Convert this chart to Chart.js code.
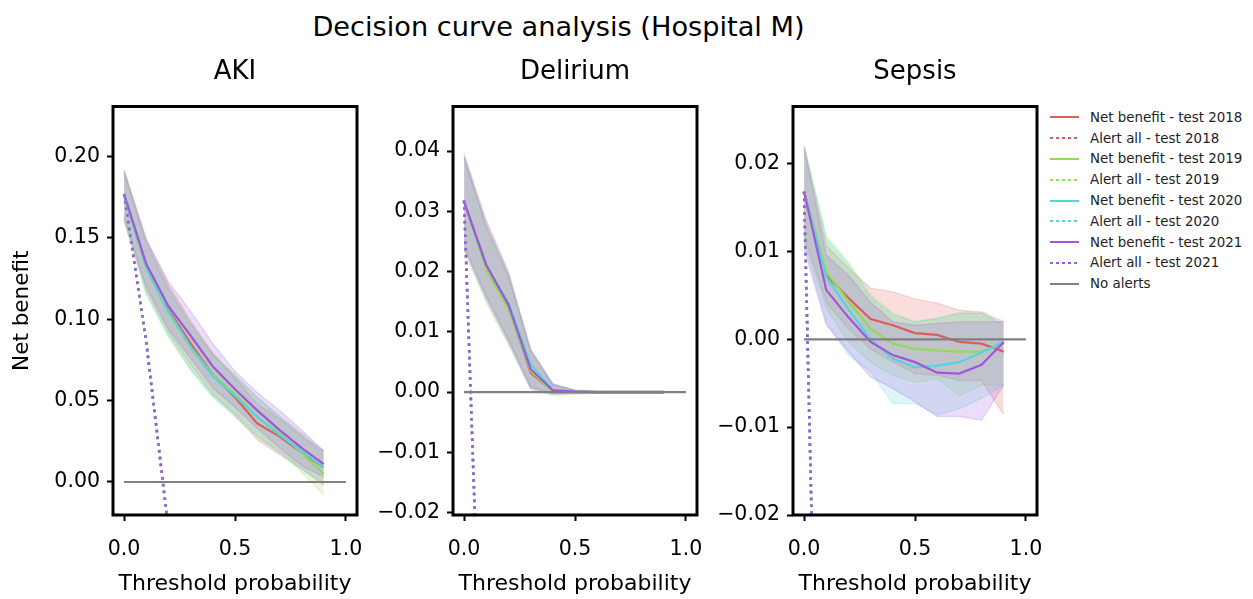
<!DOCTYPE html>
<html>
<head>
<meta charset="utf-8">
<title>Decision curve analysis (Hospital M)</title>
<script src="https://cdn.jsdelivr.net/npm/chart.js@4.4.1/dist/chart.umd.min.js"></script>
<style>
  html, body { margin: 0; padding: 0; background: #fff; }
  body { position: relative; width: 1253px; height: 599px; overflow: hidden; font-family: 'DejaVu Sans', sans-serif; color: #000; }
  canvas { position: absolute; top: 0; }
  #suptitle { position: absolute; left: 0; top: 13px; width: 1117px; text-align: center; font-size: 27.2px; line-height: 1; white-space: nowrap; }
  #legend { position: absolute; left: 1050px; top: 107px; font-size: 13.4px; color: #222; }
  .legend-item { display: flex; align-items: center; height: 20.8px; white-space: nowrap; }
  .legend-line { width: 29px; height: 2px; margin-right: 11px; }
</style>
</head>
<body>
<div id="suptitle">Decision curve analysis (Hospital M)</div>
<canvas id="akiChart" width="377" height="599" style="left:0px"></canvas>
<canvas id="deliriumChart" width="349" height="599" style="left:368px"></canvas>
<canvas id="sepsisChart" width="339" height="599" style="left:708px"></canvas>
<div id="legend"></div>
<script>
// decision curves – one chart per outcome, bands are the CI per test year

const thresholds = [0, 0.1, 0.2, 0.3, 0.4, 0.5, 0.6, 0.7, 0.8, 0.9];
const years = ['2018', '2019', '2020', '2021'];
const xTicks = [0, 0.5, 1.0];
const noAlertX = [0, 1];
const noAlertY = [0, 0];

// AKI (rows = 2018, 2019, 2020, 2021)
const akiNet = [
  [0.176, 0.133, 0.106, 0.085, 0.066, 0.052, 0.036, 0.028, 0.018, 0.009],
  [0.176, 0.131, 0.104, 0.083, 0.066, 0.054, 0.040, 0.030, 0.018, 0.005],
  [0.176, 0.132, 0.105, 0.083, 0.065, 0.053, 0.040, 0.029, 0.019, 0.009],
  [0.177, 0.134, 0.108, 0.090, 0.071, 0.057, 0.044, 0.032, 0.021, 0.011]
];
const akiUpper = [
  [0.192, 0.149, 0.121, 0.099, 0.079, 0.064, 0.048, 0.039, 0.028, 0.019],
  [0.190, 0.146, 0.118, 0.097, 0.079, 0.066, 0.052, 0.041, 0.029, 0.016],
  [0.190, 0.147, 0.119, 0.097, 0.078, 0.065, 0.052, 0.040, 0.030, 0.019],
  [0.191, 0.149, 0.123, 0.105, 0.085, 0.068, 0.055, 0.044, 0.032, 0.019]
];
const akiLower = [
  [0.161, 0.118, 0.092, 0.072, 0.054, 0.041, 0.026, 0.017, 0.008, -0.002],
  [0.160, 0.115, 0.089, 0.069, 0.053, 0.042, 0.028, 0.019, 0.006, -0.008],
  [0.161, 0.116, 0.090, 0.069, 0.052, 0.040, 0.028, 0.018, 0.008, -0.001],
  [0.163, 0.120, 0.094, 0.076, 0.058, 0.046, 0.033, 0.021, 0.010, 0.003]
];
const akiAlertAll = [
  [0.177, 0.086, -0.029],
  [0.177, 0.086, -0.029],
  [0.177, 0.086, -0.029],
  [0.177, 0.086, -0.029]
];
const akiYTicks = [0, 0.05, 0.10, 0.15, 0.20];

// Delirium
const deliriumNet = [
  [0.0316, 0.0208, 0.0142, 0.0032, 0.0002, 0.0000, 0.0000, 0.0000, 0.0000, 0.0000],
  [0.0316, 0.0203, 0.0138, 0.0035, 0.0001, 0.0000, 0.0000, 0.0000, 0.0000, 0.0000],
  [0.0316, 0.0210, 0.0148, 0.0046, 0.0003, 0.0000, 0.0000, 0.0000, 0.0000, 0.0000],
  [0.0316, 0.0211, 0.0145, 0.0038, 0.0003, 0.0001, 0.0000, 0.0000, 0.0000, 0.0000]
];
const deliriumUpper = [
  [0.0395, 0.0285, 0.0200, 0.0070, 0.0013, 0.0003, 0.0002, 0.0002, 0.0002, 0.0002],
  [0.0388, 0.0272, 0.0190, 0.0065, 0.0011, 0.0003, 0.0002, 0.0002, 0.0002, 0.0002],
  [0.0392, 0.0280, 0.0197, 0.0072, 0.0014, 0.0003, 0.0002, 0.0002, 0.0002, 0.0002],
  [0.0390, 0.0276, 0.0194, 0.0069, 0.0013, 0.0003, 0.0002, 0.0002, 0.0002, 0.0002]
];
const deliriumLower = [
  [0.0245, 0.0160, 0.0088, 0.0008, -0.0002, -0.0002, -0.0002, -0.0002, -0.0002, -0.0002],
  [0.0235, 0.0148, 0.0078, 0.0005, -0.0006, -0.0003, -0.0002, -0.0002, -0.0002, -0.0002],
  [0.0240, 0.0158, 0.0086, 0.0010, -0.0003, -0.0002, -0.0002, -0.0002, -0.0002, -0.0002],
  [0.0238, 0.0154, 0.0083, 0.0006, -0.0003, -0.0002, -0.0002, -0.0002, -0.0002, -0.0002]
];
const deliriumAlertAll = [
  [0.0318, -0.0760, -0.2079],
  [0.0318, -0.0760, -0.2079],
  [0.0318, -0.0760, -0.2079],
  [0.0318, -0.0760, -0.2079]
];
const deliriumYTicks = [-0.02, -0.01, 0, 0.01, 0.02, 0.03, 0.04];

// Sepsis
const sepsisNet = [
  [0.0168, 0.0073, 0.0047, 0.0023, 0.0016, 0.0007, 0.0005, -0.0003, -0.0005, -0.0014],
  [0.0168, 0.0077, 0.0043, 0.0012, -0.0005, -0.0011, -0.0013, -0.0014, -0.0014, -0.0005],
  [0.0168, 0.0071, 0.0034, 0.0000, -0.0022, -0.0032, -0.0030, -0.0026, -0.0015, -0.0003],
  [0.0168, 0.0056, 0.0025, -0.0003, -0.0018, -0.0026, -0.0038, -0.0039, -0.0029, -0.0003]
];
const sepsisUpper = [
  [0.0220, 0.0107, 0.0081, 0.0058, 0.0054, 0.0046, 0.0041, 0.0033, 0.0031, 0.0020],
  [0.0221, 0.0118, 0.0088, 0.0050, 0.0030, 0.0020, 0.0024, 0.0030, 0.0030, 0.0016],
  [0.0219, 0.0115, 0.0085, 0.0048, 0.0028, 0.0020, 0.0024, 0.0030, 0.0030, 0.0016],
  [0.0217, 0.0096, 0.0073, 0.0042, 0.0020, 0.0016, 0.0018, 0.0020, 0.0020, 0.0020]
];
const sepsisLower = [
  [0.0118, 0.0042, 0.0012, -0.0011, -0.0026, -0.0039, -0.0041, -0.0047, -0.0047, -0.0086],
  [0.0112, 0.0035, -0.0003, -0.0026, -0.0041, -0.0049, -0.0045, -0.0064, -0.0052, -0.0052],
  [0.0110, 0.0020, -0.0018, -0.0037, -0.0073, -0.0073, -0.0086, -0.0079, -0.0067, -0.0052],
  [0.0103, 0.0016, -0.0014, -0.0043, -0.0056, -0.0071, -0.0088, -0.0088, -0.0092, -0.0052]
];
const sepsisAlertAll = [
  [0.0168, -0.0924, -0.2290],
  [0.0168, -0.0924, -0.2290],
  [0.0168, -0.0924, -0.2290],
  [0.0168, -0.0924, -0.2290]
];
const sepsisYTicks = [-0.02, -0.01, 0, 0.01, 0.02];

// styles
const yearColors = ['#db5f57', '#91db57', '#57d3db', '#a157db'];
const noAlertColor = '#808080';

Chart.defaults.font.family = "'DejaVu Sans', sans-serif";
Chart.defaults.color = '#000';

function rgba(hex, a) {
  const n = parseInt(hex.slice(1), 16);
  return 'rgba(' + (n >> 16) + ',' + ((n >> 8) & 255) + ',' + (n & 255) + ',' + a + ')';
}

function toPoints(values, xs) {
  xs = xs || thresholds;
  return values.map((v, i) => ({ x: xs[i], y: v }));
}

function fmtTick(v, digits) {
  return Number(v).toFixed(digits).replace('-', '\u2212');
}

// black box around the plot area, like matplotlib spines
const framePlugin = {
  id: 'frame',
  afterDatasetsDraw(chart) {
    const { ctx, chartArea: a } = chart;
    ctx.save();
    ctx.strokeStyle = '#000';
    ctx.lineWidth = 3;
    ctx.strokeRect(a.left, a.top, a.right - a.left, a.bottom - a.top);
    ctx.restore();
  }
};

function drawPanel(p) {
  const datasets = [];

  years.forEach((yr, i) => {
    const c = yearColors[i];
    datasets.push({
      data: toPoints(p.upper[i]), borderColor: rgba(c, 0.2), backgroundColor: rgba(c, 0.2),
      borderWidth: 1.5, fill: '+1', order: 20 + (3 - i)
    });
    datasets.push({
      data: toPoints(p.lower[i]), borderColor: rgba(c, 0.2), borderWidth: 1.5,
      fill: false, order: 20 + (3 - i)
    });
  });

  years.forEach((yr, i) => {
    datasets.push({
      data: toPoints(p.net[i]), borderColor: yearColors[i], borderWidth: 2.2,
      fill: false, order: 10 + (3 - i)
    });
    datasets.push({
      data: toPoints(p.alert[i]), borderColor: yearColors[i], borderWidth: 2.6,
      borderDash: [2.6, 4.2], fill: false, order: 3 - i
    });
  });

  datasets.push({
    data: toPoints(noAlertY, noAlertX), borderColor: noAlertColor, borderWidth: 2.2,
    fill: false, order: 5
  });

  const yTitle = p.yLabel
    ? { display: true, text: p.yLabel, font: { size: 21.5 }, padding: { top: 9.3, bottom: 0 } }
    : { display: false };

  new Chart(document.getElementById(p.canvas), {
    type: 'line',
    data: { datasets },
    options: {
      responsive: false,
      animation: false,
      events: [],
      elements: { point: { radius: 0 }, line: { tension: 0 } },
      layout: { padding: { left: 0, right: p.padRight, top: 0, bottom: 0 } },
      plugins: {
        legend: { display: false },
        tooltip: { enabled: false },
        title: {
          display: true, text: p.title, fullSize: false, color: '#000',
          font: { size: 26, weight: 'normal' },
          padding: { top: 56.4, bottom: 18.9 }
        }
      },
      scales: {
        x: {
          type: 'linear', min: -0.05, max: 1.05,
          afterBuildTicks: s => { s.ticks = xTicks.map(v => ({ value: v })); },
          // fixed box, no extra room asked for the end labels
          afterFit: s => { s.height = 84; s.paddingLeft = 0; s.paddingRight = 0; },
          ticks: { callback: v => fmtTick(v, 1), font: { size: 20.5 }, padding: 16, maxRotation: 0, autoSkip: false },
          grid: { drawOnChartArea: false, drawTicks: true, tickLength: 6, tickWidth: 2, tickColor: '#000' },
          border: { display: false },
          title: { display: true, text: 'Threshold probability', font: { size: 22 }, padding: { top: 0, bottom: 1.4 } }
        },
        y: {
          type: 'linear', min: p.yMin, max: p.yMax,
          afterBuildTicks: s => { s.ticks = p.yTicks.map(v => ({ value: v })); },
          afterFit: s => { s.width = p.yAxisWidth; s.paddingTop = 0; s.paddingBottom = 0; },
          ticks: { callback: v => fmtTick(v, 2), font: { size: 20.5 }, padding: 7, autoSkip: false },
          grid: { drawOnChartArea: false, drawTicks: true, tickLength: 6, tickWidth: 2, tickColor: '#000' },
          border: { display: false },
          title: yTitle
        }
      }
    },
    plugins: [framePlugin]
  });
}

function renderLegend() {
  const items = [];
  years.forEach((yr, i) => {
    items.push({ label: 'Net benefit - test ' + yr, color: yearColors[i], dotted: false });
    items.push({ label: 'Alert all - test ' + yr, color: yearColors[i], dotted: true });
  });
  items.push({ label: 'No alerts', color: noAlertColor, dotted: false });

  document.getElementById('legend').innerHTML = items.map(it => {
    const bg = it.dotted
      ? 'repeating-linear-gradient(to right, ' + it.color + ' 0 2.5px, transparent 2.5px 6px)'
      : it.color;
    return '<div class="legend-item"><span class="legend-line" style="background:' + bg + '"></span><span>' + it.label + '</span></div>';
  }).join('');
}

drawPanel({
  canvas: 'akiChart', title: 'AKI', yLabel: 'Net benefit',
  yMin: -0.0203, yMax: 0.2308, yTicks: akiYTicks, yAxisWidth: 113, padRight: 20,
  net: akiNet, upper: akiUpper, lower: akiLower, alert: akiAlertAll
});
drawPanel({
  canvas: 'deliriumChart', title: 'Delirium',
  yMin: -0.0204, yMax: 0.0474, yTicks: deliriumYTicks, yAxisWidth: 85, padRight: 20,
  net: deliriumNet, upper: deliriumUpper, lower: deliriumLower, alert: deliriumAlertAll
});
drawPanel({
  canvas: 'sepsisChart', title: 'Sepsis',
  yMin: -0.0200, yMax: 0.0265, yTicks: sepsisYTicks, yAxisWidth: 85, padRight: 10,
  net: sepsisNet, upper: sepsisUpper, lower: sepsisLower, alert: sepsisAlertAll
});
renderLegend();
</script>
</body>
</html>
